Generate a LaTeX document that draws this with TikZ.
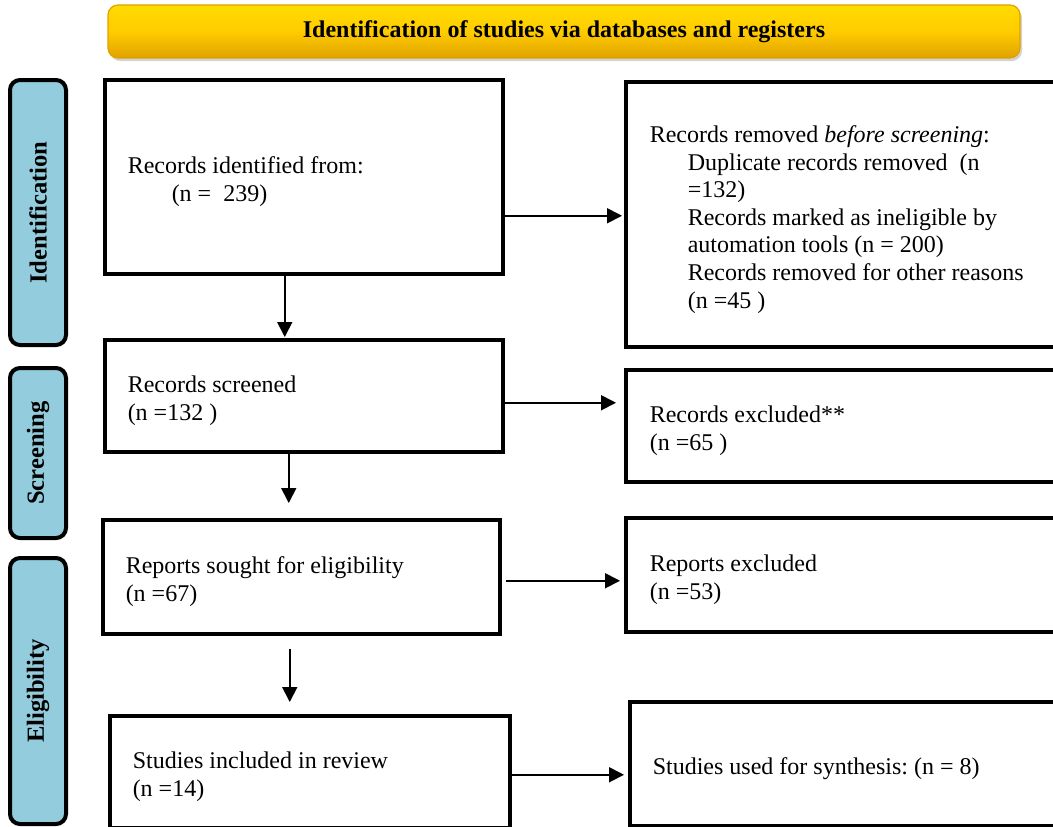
\documentclass[tikz,border=0pt]{standalone}
\usepackage{fontspec}
\setmainfont{Liberation Serif}
\usepackage{tikz}
\usetikzlibrary{arrows.meta,positioning,shadows}
\definecolor{gold}{HTML}{FFCC00}
\definecolor{golddark}{HTML}{E0A200}
\definecolor{phaseblue}{HTML}{93CDDD}
\frenchspacing

\begin{document}
\begin{tikzpicture}[x=0.5pt,y=-0.5pt,
  box/.style={draw,line width=1.75pt,anchor=north west,align=left,inner xsep=11.5pt,
    font=\fontsize{12}{13.8}\selectfont,
    execute at begin node={\spaceskip=0.25em\relax\xspaceskip=0.25em\relax\rule{0pt}{13.5pt}}},
  phase/.style={draw,line width=2pt,rounded corners=5pt,fill=phaseblue,rotate=90,
    font=\fontsize{12.3}{14}\selectfont\bfseries},
  arr/.style={line width=0.9pt,-{Triangle[length=7.5pt,width=7.5pt]}}]
\clip (0,0) rectangle (1053,826);
% banner
\node[draw=golddark,line width=0.6pt,rounded corners=5pt,top color=gold!70!yellow,bottom color=golddark,middle color=gold,
  drop shadow={opacity=0.35,shadow xshift=1pt,shadow yshift=-1.5pt},
  minimum width=456pt,minimum height=26.5pt,font=\fontsize{12}{14}\selectfont\bfseries] (title) at (564,31.5)
  {Identification of studies via databases and registers};
% phases
\node[phase,minimum width=132.5pt,minimum height=28pt] (ident) at (38,212.5) {Identification};
\node[phase,minimum width=85pt,minimum height=28pt] (screen) at (38,453) {Screening};
\node[phase,minimum width=133pt,minimum height=28pt] (elig) at (38,691) {Eligibility};
% left column
\node[box,text width=176pt,minimum height=97pt] (ident1) at (103,78)
  {Records identified from:\\\hspace*{22pt}(n =\ \ 239)};
\node[box,text width=176pt,minimum height=56pt] (screen1) at (103,338)
  {Records screened\\(n =132\ )};
\node[box,text width=175.5pt,minimum height=57pt] (sought) at (101,518)
  {Reports sought for eligibility\\(n =67)};
\node[box,text width=177pt,minimum height=56pt] (incl) at (108,714)
  {Studies included in review\\(n =14)};
% right column
\node[box,inner xsep=12pt,text width=216pt,minimum height=132.5pt] (removed) at (624,80)
  {Records removed \textit{before screening}:\\
   \hspace*{19pt}Duplicate records removed\ \ (n\\
   \hspace*{19pt}=132)\\
   \hspace*{19pt}Records marked as ineligible by\\
   \hspace*{19pt}automation tools (n = 200)\\
   \hspace*{19pt}Records removed for other reasons\\
   \hspace*{19pt}(n =45\ )};
\node[box,inner xsep=12pt,text width=216pt,minimum height=56pt] (excl) at (624,368)
  {Records excluded**\\(n =65\ )};
\node[box,inner xsep=12pt,text width=216pt,minimum height=57pt] (repexcl) at (624,516)
  {Reports excluded\\(n =53)};
\node[box,inner xsep=11.5pt,text width=216pt,minimum height=62pt] (synth) at (628,700)
  {Studies used for synthesis: (n = 8)};
% arrows
\draw[arr,shorten >=1pt] ([yshift=-19.5pt]ident1.east) -- ([yshift=-19.5pt]ident1.east -| removed.west);
\draw[arr,shorten >=0.5pt] ([xshift=-9.5pt]ident1.south) -- ([xshift=-9.5pt]ident1.south |- screen1.north);
\draw[arr,shorten <=-2pt,shorten >=4pt] ([yshift=-3.5pt]screen1.east) -- ([yshift=-3.5pt]screen1.east -| excl.west);
\draw[arr,shorten >=7.5pt] ([xshift=-7.5pt]screen1.south) -- ([xshift=-7.5pt]screen1.south |- sought.north);
\draw[arr,shorten <=2pt,shorten >=2pt] ([yshift=-2pt]sought.east) -- ([yshift=-2pt]sought.east -| repexcl.west);
\draw[arr,shorten <=6.5pt,shorten >=6pt] ([xshift=-5.75pt]sought.south) -- ([xshift=-5.75pt]sought.south |- incl.north);
\draw[arr,shorten >=2pt] ([yshift=-1.5pt]incl.east) -- ([yshift=-1.5pt]incl.east -| synth.west);
\end{tikzpicture}
\end{document}
